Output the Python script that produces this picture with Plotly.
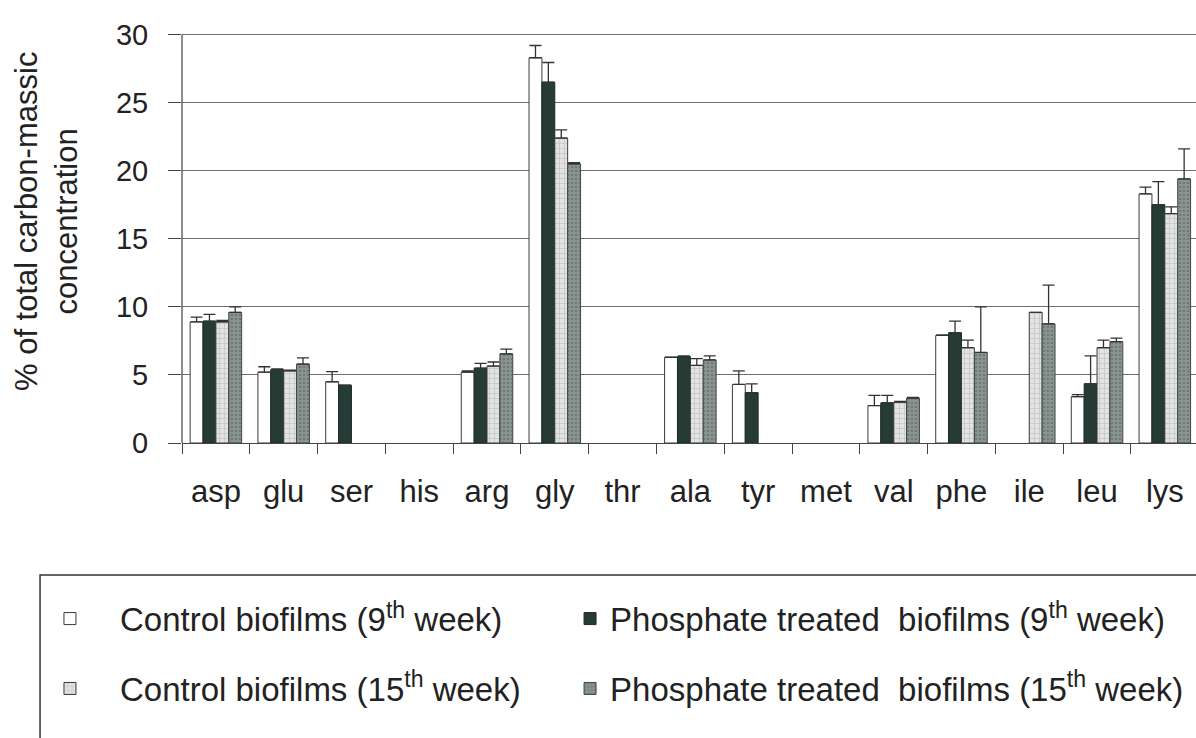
import plotly.graph_objects as go

# Amino acids on the category axis
amino_acids = ["asp", "glu", "ser", "his", "arg", "gly", "thr", "ala",
               "tyr", "met", "val", "phe", "ile", "leu", "lys"]

# % of total carbon-massic concentration (None = not detected)
control_9 = [8.9, 5.2, 4.5, None, 5.2, 28.3, None, 6.3, 4.3, None, 2.75, 7.9, None, 3.4, 18.3]
control_9_err = [0.35, 0.4, 0.75, None, 0.1, 0.9, None, 0.0, 1.0, None, 0.75, 0.05, None, 0.15, 0.5]

phosphate_9 = [8.95, 5.4, 4.25, None, 5.5, 26.5, None, 6.35, 3.7, None, 2.95, 8.1, None, 4.35, 17.5]
phosphate_9_err = [0.5, 0.05, 0.0, None, 0.35, 1.45, None, 0.05, 0.65, None, 0.55, 0.85, None, 2.05, 1.7]

control_15 = [8.9, 5.3, None, None, 5.65, 22.4, None, 5.7, None, None, 3.0, 7.0, 9.6, 7.0, 16.85]
control_15_err = [0.1, 0.05, None, None, 0.3, 0.6, None, 0.5, None, None, 0.05, 0.55, 0.0, 0.55, 0.5]

phosphate_15 = [9.6, 5.8, None, None, 6.55, 20.5, None, 6.1, None, None, 3.3, 6.65, 8.75, 7.45, 19.4]
phosphate_15_err = [0.4, 0.45, None, None, 0.35, 0.1, None, 0.3, None, None, 0.05, 3.35, 2.85, 0.25, 2.2]

y_ticks = [0, 5, 10, 15, 20, 25, 30]

series_names = [
    "Control biofilms (9<sup>th</sup> week)",
    "Phosphate treated&nbsp; biofilms (9<sup>th</sup> week)",
    "Control biofilms (15<sup>th</sup> week)",
    "Phosphate treated&nbsp; biofilms (15<sup>th</sup> week)",
]

FONT = "Liberation Sans, Arial, sans-serif"
TEXT = "#222222"
OUTLINE = "#3a3a3a"
GRID = "#6f6f6f"
AXIS = "#444444"

err_style = dict(type="data", symmetric=False, color="#333333", thickness=1.3, width=6)


def bar(name, values, errors, legend, group, marker):
    return go.Bar(
        name=name, x=amino_acids, y=values,
        error_y=dict(array=errors, arrayminus=[0] * len(errors), **err_style),
        marker=marker, legend=legend, legendgroup=group,
    )


fig = go.Figure()
fig.add_trace(bar(series_names[0], control_9, control_9_err, "legend", "c9",
                  dict(color="white", line=dict(color=OUTLINE, width=1))))
fig.add_trace(bar(series_names[1], phosphate_9, phosphate_9_err, "legend2", "p9",
                  dict(color="#263b35", line=dict(color="#1e2a26", width=1))))
fig.add_trace(bar(series_names[2], control_15, control_15_err, "legend", "c15",
                  dict(color="#dcdedd", line=dict(color=OUTLINE, width=1),
                       pattern=dict(shape="+", fgcolor="#9c9f9e", bgcolor="#e2e4e3",
                                    size=5, solidity=0.25))))
fig.add_trace(bar(series_names[3], phosphate_15, phosphate_15_err, "legend2", "p15",
                  dict(color="#7e8884", line=dict(color="#3f4845", width=1),
                       pattern=dict(shape=".", fgcolor="#56605c", bgcolor="#8a9490",
                                    size=4, solidity=0.35))))

legend_common = dict(
    orientation="v", bgcolor="rgba(0,0,0,0)", borderwidth=0,
    font=dict(family=FONT, size=33, color=TEXT),
    tracegroupgap=24, xanchor="left", yanchor="top",
)

# plot area: x 182..1196, y 21..443 (value 30 sits at y~35)
fig.update_layout(
    width=1196, height=738,
    margin=dict(l=182, r=0, t=21, b=295),
    paper_bgcolor="white", plot_bgcolor="white",
    barmode="group", bargap=0.24, bargroupgap=0,
    font=dict(family=FONT, color=TEXT),
    legend=dict(x=-0.1598, y=-0.3498, itemwidth=90, **legend_common),
    legend2=dict(x=0.3827, y=-0.3498, itemwidth=30, **legend_common),
    xaxis=dict(
        type="category", range=[-0.5, 14.46],
        showline=True, linecolor=AXIS, linewidth=1.2,
        ticks="outside", tickson="boundaries", ticklen=10, tickcolor=AXIS,
        tickfont=dict(family=FONT, size=31, color=TEXT),
        showgrid=False, ticklabelstandoff=21,
    ),
    yaxis=dict(
        range=[0, 31], tickvals=y_ticks,
        showline=False,
        ticks="outside", ticklen=13, tickcolor=AXIS,
        tickfont=dict(family=FONT, size=29, color=TEXT),
        showgrid=True, gridcolor=GRID, gridwidth=1.2,
        zeroline=False, ticklabelstandoff=14,
    ),
)

# Value axis line, running from 0 up to the top tick only
fig.add_shape(
    type="line", xref="paper", yref="y", x0=0, x1=0,
    y0=y_ticks[0], y1=y_ticks[-1],
    line=dict(color=AXIS, width=1.2), layer="above",
)

# Axis title, two lines rotated along the value axis
fig.add_annotation(
    text="% of total carbon-massic<br>concentration",
    xref="paper", yref="paper", x=-0.1331, y=0.5237,
    xanchor="center", yanchor="middle", textangle=-90, showarrow=False,
    font=dict(family=FONT, size=31, color=TEXT),
)

# Frame around the legend block
fig.add_shape(
    type="rect", xref="paper", yref="paper",
    x0=-0.1400, x1=1.05, y0=-0.80, y1=-0.3128,
    line=dict(color="#333333", width=1.5), fillcolor="rgba(0,0,0,0)",
)

fig.write_html("out.html")
